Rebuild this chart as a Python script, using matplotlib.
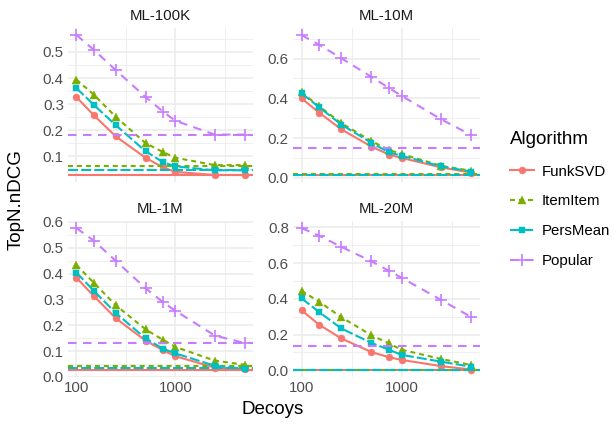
import numpy as np
import matplotlib.pyplot as plt
from matplotlib.ticker import FixedLocator, NullFormatter
from matplotlib.lines import Line2D

plt.rcParams['font.family'] = ['Liberation Sans', 'DejaVu Sans']

decoys = [100, 150, 250, 500, 750, 1000, 2500, 5000]
algorithms = ['FunkSVD', 'ItemItem', 'PersMean', 'Popular']
datasets = ['ML-100K', 'ML-10M', 'ML-1M', 'ML-20M']

# nDCG per dataset, per algorithm, over decoy counts
ndcg = {
    'ML-100K': {
        'FunkSVD': [0.327, 0.257, 0.176, 0.094, 0.057, 0.040, 0.028, 0.028],
        'ItemItem': [0.394, 0.336, 0.251, 0.150, 0.116, 0.094, 0.066, 0.066],
        'PersMean': [0.361, 0.297, 0.219, 0.119, 0.077, 0.061, 0.046, 0.046],
        'Popular': [0.565, 0.508, 0.430, 0.327, 0.271, 0.236, 0.183, 0.183],
    },
    'ML-10M': {
        'FunkSVD': [0.400, 0.328, 0.244, 0.157, 0.117, 0.100, 0.052, 0.026],
        'ItemItem': [0.430, 0.360, 0.275, 0.185, 0.140, 0.120, 0.060, 0.035],
        'PersMean': [0.426, 0.355, 0.268, 0.176, 0.128, 0.111, 0.057, 0.031],
        'Popular': [0.719, 0.670, 0.602, 0.508, 0.452, 0.413, 0.294, 0.214],
    },
    'ML-1M': {
        'FunkSVD': [0.384, 0.313, 0.227, 0.140, 0.103, 0.080, 0.036, 0.029],
        'ItemItem': [0.433, 0.364, 0.277, 0.184, 0.143, 0.116, 0.063, 0.047],
        'PersMean': [0.404, 0.333, 0.247, 0.149, 0.109, 0.091, 0.043, 0.031],
        'Popular': [0.576, 0.527, 0.449, 0.343, 0.289, 0.256, 0.160, 0.131],
    },
    'ML-20M': {
        'FunkSVD': [0.336, 0.255, 0.178, 0.102, 0.073, 0.058, 0.023, 0.004],
        'ItemItem': [0.445, 0.384, 0.297, 0.196, 0.150, 0.115, 0.063, 0.029],
        'PersMean': [0.403, 0.326, 0.234, 0.153, 0.115, 0.086, 0.048, 0.019],
        'Popular': [0.796, 0.754, 0.691, 0.610, 0.556, 0.518, 0.393, 0.297],
    },
}
# baseline nDCG (no decoys), drawn as horizontal lines
baseline = {
    'ML-100K': {'FunkSVD': 0.029, 'ItemItem': 0.064, 'PersMean': 0.047, 'Popular': 0.183},
    'ML-10M': {'FunkSVD': 0.014, 'ItemItem': 0.017, 'PersMean': 0.016, 'Popular': 0.152},
    'ML-1M': {'FunkSVD': 0.027, 'ItemItem': 0.044, 'PersMean': 0.035, 'Popular': 0.131},
    'ML-20M': {'FunkSVD': 0.002, 'ItemItem': 0.003, 'PersMean': 0.003, 'Popular': 0.134},
}
yticks = {
    'ML-100K': [0.1, 0.2, 0.3, 0.4, 0.5],
    'ML-10M': [0.0, 0.2, 0.4, 0.6],
    'ML-1M': [0.0, 0.1, 0.2, 0.3, 0.4, 0.5, 0.6],
    'ML-20M': [0.0, 0.2, 0.4, 0.6, 0.8],
}

colors = {'FunkSVD': '#F8766D', 'ItemItem': '#7CAE00', 'PersMean': '#00BFC4', 'Popular': '#C77CFF'}
markers = {'FunkSVD': 'o', 'ItemItem': '^', 'PersMean': 's', 'Popular': '+'}
msizes = {'FunkSVD': 5, 'ItemItem': 6, 'PersMean': 5, 'Popular': 9}
dashes = {'FunkSVD': None, 'ItemItem': (2.4, 1.9), 'PersMean': (4.8, 1.5), 'Popular': (4.1, 3.1)}

W, H = 613, 425
fig = plt.figure(figsize=(W / 100, H / 100), dpi=100)
boxes = {  # left, top, right, bottom in pixels
    'ML-100K': (68, 28, 253, 182),
    'ML-10M': (293, 28, 480, 182),
    'ML-1M': (68, 221, 253, 377),
    'ML-20M': (293, 221, 480, 377),
}
grid_c = '#EBEBEB'
lw = 1.5


def style(alg):
    kw = dict(color=colors[alg], lw=lw, marker=markers[alg], ms=msizes[alg],
              mew=1.2 if alg == 'Popular' else 0.3, mec=colors[alg], mfc=colors[alg])
    if dashes[alg] is not None:
        kw['dashes'] = dashes[alg]
    return kw


for ds in datasets:
    l, t, r, b = boxes[ds]
    ax = fig.add_axes([l / W, 1 - b / H, (r - l) / W, (b - t) / H])
    for alg in algorithms:
        kw = dict(color=colors[alg], lw=lw)
        if dashes[alg] is not None:
            kw['dashes'] = dashes[alg]
        ax.axhline(baseline[ds][alg], **kw)
        ax.plot(decoys, ndcg[ds][alg], **style(alg))
    ax.set_xscale('log')
    ax.set_xlim(10 ** 1.915, 10 ** 3.784)
    ax.xaxis.set_major_locator(FixedLocator([100, 1000]))
    ax.xaxis.set_minor_locator(FixedLocator([10 ** 2.5, 10 ** 3.5]))
    ax.xaxis.set_minor_formatter(NullFormatter())
    if ds in ('ML-1M', 'ML-20M'):
        ax.set_xticklabels(['100', '1000'])
    else:
        ax.set_xticklabels([])
    allv = [v for alg in algorithms for v in ndcg[ds][alg]] + list(baseline[ds].values())
    lo, hi = min(allv), max(allv)
    pad = (hi - lo) * 0.05
    ax.set_ylim(lo - pad, hi + pad)
    yt = yticks[ds]
    ax.yaxis.set_major_locator(FixedLocator(yt))
    step = yt[1] - yt[0]
    ax.yaxis.set_minor_locator(FixedLocator([v + step / 2 for v in [yt[0] - step] + yt]))
    ax.set_yticklabels([f'{v:.1f}' for v in yt])
    ax.grid(True, which='major', color=grid_c, lw=1.1)
    ax.grid(True, which='minor', color=grid_c, lw=0.55)
    ax.set_axisbelow(True)
    for s in ax.spines.values():
        s.set_visible(False)
    ax.tick_params(which='both', length=0, labelsize=10.8, labelcolor='#4D4D4D', pad=3)
    ax.set_title(ds, fontsize=10.8, color='#1A1A1A', pad=6)

fig.text(273 / W, 1 - 410 / H, 'Decoys', ha='center', va='center', fontsize=13.5)
fig.text(16 / W, 1 - 200 / H, 'TopN.nDCG', ha='center', va='center', rotation=90, fontsize=13.5)

handles = [Line2D([], [], **style(alg)) for alg in algorithms]
leg = fig.legend(handles, algorithms, title='Algorithm', loc='upper left',
                 bbox_to_anchor=(510 / W, 1 - 131 / H), frameon=False, fontsize=10.8,
                 title_fontsize=13.5, handlelength=1.6, labelspacing=1.05, borderaxespad=0,
                 borderpad=0, handletextpad=0.5)
leg._legend_box.align = 'left'
leg._legend_box.sep = 12

fig.savefig('out.png', dpi=100)
